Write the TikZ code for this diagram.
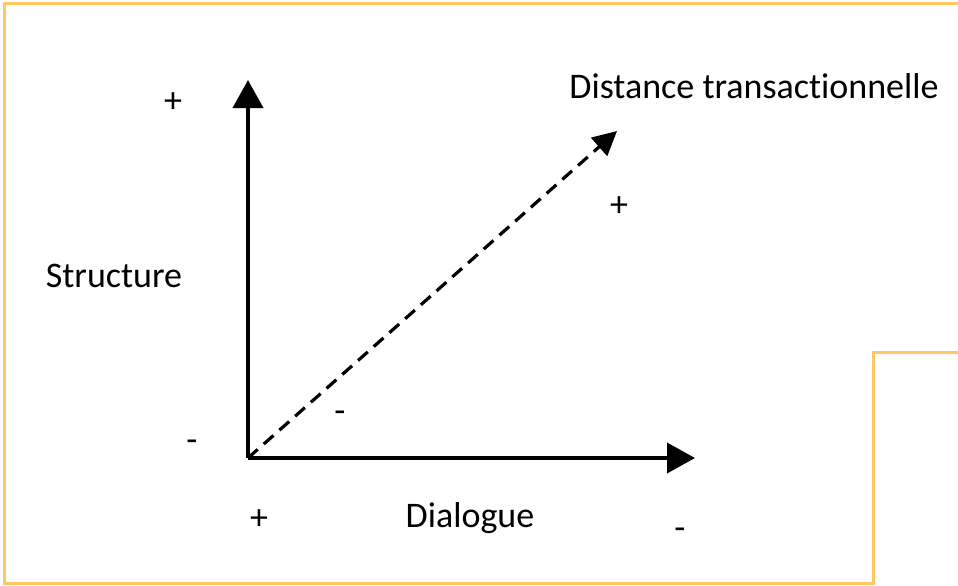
\documentclass[tikz,border=0pt]{standalone}
\usepackage{fontspec}
\setmainfont[Ligatures=NoCommon]{Carlito}
\usepackage{tikz}
\usetikzlibrary{arrows.meta, positioning}

\definecolor{frameorange}{RGB}{255,200,100}

\begin{document}
\begin{tikzpicture}[
  x=0.5pt, y=-0.5pt,
  lbl/.style={inner sep=0pt, font=\fontsize{18}{21}\selectfont},
  axis/.style={-{Triangle[length=14pt, width=15pt]}, line width=2pt},
  diag/.style={-{Triangle[length=12pt, width=12pt]}, line width=1.6pt, dash pattern=on 6.5pt off 4pt},
  frame/.style={draw=frameorange, line width=1.5pt},
]
\useasboundingbox (0,0) rectangle (958,585);

% Frame
\draw[frame] (958,3) -- (4,3) -- (4,583) -- (873,583) -- (873,352) -- (958,352);

% Axes
\coordinate (o) at (248,458);
\coordinate (ytip) at (248,80);
\coordinate (xtip) at (695,458);
\coordinate (dtip) at (617,131);

\draw[axis] (o) -- (ytip);
\draw[axis] (o) -- (xtip);
\draw[diag] (o) -- (dtip);

% Labels
\node[lbl] (struct) at (114,276) {Structure};
\node[lbl] (dial) at (470,518) {Dialogue};
\node[lbl] (dist) at (754,86) {Distance transactionnelle};

% Signs
\node[lbl] (splus) at (173,103) {+};
\node[lbl] (sminus) at (192,446) {-};
\node[lbl] (dplus) at (259,520) {+};
\node[lbl] (dminus) at (680,534) {-};
\node[lbl] (tplus) at (619,207) {+};
\node[lbl] (tminus) at (340,417) {-};

\end{tikzpicture}
\end{document}
